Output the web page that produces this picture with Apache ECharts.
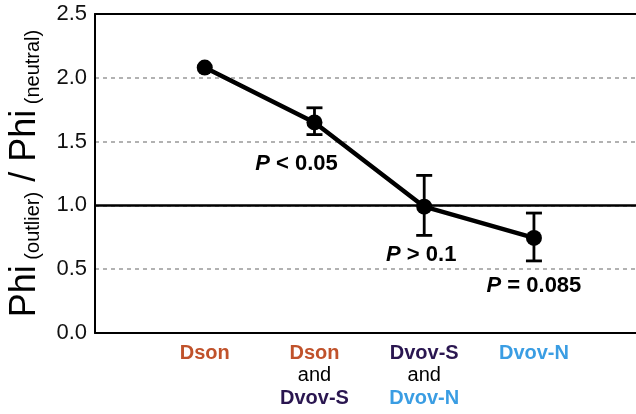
<!DOCTYPE html>
<html><head><meta charset="utf-8">
<script src="https://cdn.jsdelivr.net/npm/echarts@6/dist/echarts.min.js"></script>
<style>html,body{margin:0;padding:0;background:#fff}#c{width:636px;height:414px}</style>
</head><body><div id="c"></div>
<script>
// Data
const categories = [
  '{o|Dson}',
  '{o|Dson}\n{n|and}\n{p|Dvov-S}',
  '{p|Dvov-S}\n{n|and}\n{b|Dvov-N}',
  '{b|Dvov-N}'
];
const xPositions = [1, 2, 3, 4];
const ratioValues = [2.08, 1.65, 0.99, 0.745];
const errLow  = [null, 1.555, 0.765, 0.565];
const errHigh = [null, 1.765, 1.235, 0.94];
const pLabels = ['', 'P < 0.05', 'P > 0.1', 'P = 0.085'];

const FONT = '"Liberation Sans", Arial, Helvetica, sans-serif';
const chart = echarts.init(document.getElementById('c'), null, {renderer: 'canvas'});

const lineData = xPositions.map((x, i) => [x, ratioValues[i]]);
const errData = xPositions.map((x, i) => [x, errLow[i], errHigh[i]]).filter(d => d[1] != null);
const labelOffsets = [[0,0], [-18, 41], [-3, 48], [0, 48]];

const catRich = (color, bold) => ({color, fontWeight: bold ? 'bold' : 'normal', fontSize: 20, fontFamily: FONT, lineHeight: 22.5});

const option = {
  animation: false,
  backgroundColor: '#fff',
  grid: {left: 95, right: 0, top: 14, bottom: 81, containLabel: false, outerBoundsMode: 'none'},
  xAxis: [{
    type: 'value', min: 0, max: 4.93, interval: 1,
    axisLine: {show: true, onZero: false, lineStyle: {color: '#000', width: 2}},
    axisTick: {show: false},
    splitLine: {show: false},
    axisLabel: {
      showMaxLabel: false, showMinLabel: false, margin: 9,
      fontFamily: FONT, color: '#000', lineHeight: 22.5,
      formatter: v => { const i = xPositions.indexOf(v); return i >= 0 ? categories[i] : ''; },
      rich: {
        o: catRich('#c0522b', true),
        p: catRich('#2a1650', true),
        b: catRich('#3a9de3', true),
        n: catRich('#000', false)
      }
    }
  }, {
    type: 'value', position: 'top', min: 0, max: 4.93,
    axisLine: {show: true, onZero: false, lineStyle: {color: '#000', width: 2}},
    axisTick: {show: false}, axisLabel: {show: false}, splitLine: {show: false}
  }],
  yAxis: {
    type: 'value', min: 0, max: 2.5, interval: 0.5,
    axisLine: {show: true, lineStyle: {color: '#000', width: 2}},
    axisTick: {show: false},
    axisLabel: {fontFamily: FONT, fontSize: 22, color: '#111', margin: 8, formatter: v => v.toFixed(1)},
    splitLine: {show: true, lineStyle: {color: '#999', type: [4, 4], width: 1.5}},
    name: '{big|Phi}{small| (outlier)}{big| / Phi}{small| (neutral)}',
    nameLocation: 'middle', nameRotate: 90, nameGap: 52,
    nameTextStyle: {
      rich: {
        big: {fontSize: 36, fontFamily: FONT, color: '#000', lineHeight: 40, verticalAlign: 'bottom'},
        small: {fontSize: 20, fontFamily: FONT, color: '#000', lineHeight: 40, verticalAlign: 'bottom'}
      }
    }
  },
  series: [{
    type: 'line',
    data: lineData,
    symbol: 'circle', symbolSize: 16,
    lineStyle: {color: '#000', width: 4.5},
    itemStyle: {color: '#000'},
    z: 5,
    label: {
      show: true,
      formatter: p => {
        const t = pLabels[p.dataIndex];
        if (!t) return '';
        return '{i|P}{r|' + t.slice(1) + '}';
      },
      position: 'inside',
      rich: {
        i: {fontStyle: 'italic', fontWeight: 'bold', fontSize: 22, fontFamily: FONT, color: '#000'},
        r: {fontWeight: 'bold', fontSize: 22, fontFamily: FONT, color: '#000'}
      }
    },
    labelLayout: p => ({dx: labelOffsets[p.dataIndex][0], dy: labelOffsets[p.dataIndex][1]}),
    markLine: {
      silent: true, symbol: 'none', label: {show: false},
      lineStyle: {color: '#000', type: 'solid', width: 2.5},
      data: [{yAxis: 1.0}]
    }
  }, {
    type: 'custom',
    data: errData,
    z: 4,
    renderItem: (params, api) => {
      const x = api.value(0);
      const lo = api.coord([x, api.value(1)]);
      const hi = api.coord([x, api.value(2)]);
      const w = 8;
      const style = {stroke: '#000', lineWidth: 2.8};
      return {type: 'group', children: [
        {type: 'line', shape: {x1: lo[0], y1: lo[1], x2: hi[0], y2: hi[1]}, style},
        {type: 'line', shape: {x1: lo[0]-w, y1: lo[1], x2: lo[0]+w, y2: lo[1]}, style},
        {type: 'line', shape: {x1: hi[0]-w, y1: hi[1], x2: hi[0]+w, y2: hi[1]}, style}
      ]};
    }
  }]
};
chart.setOption(option);
</script>
</body></html>
